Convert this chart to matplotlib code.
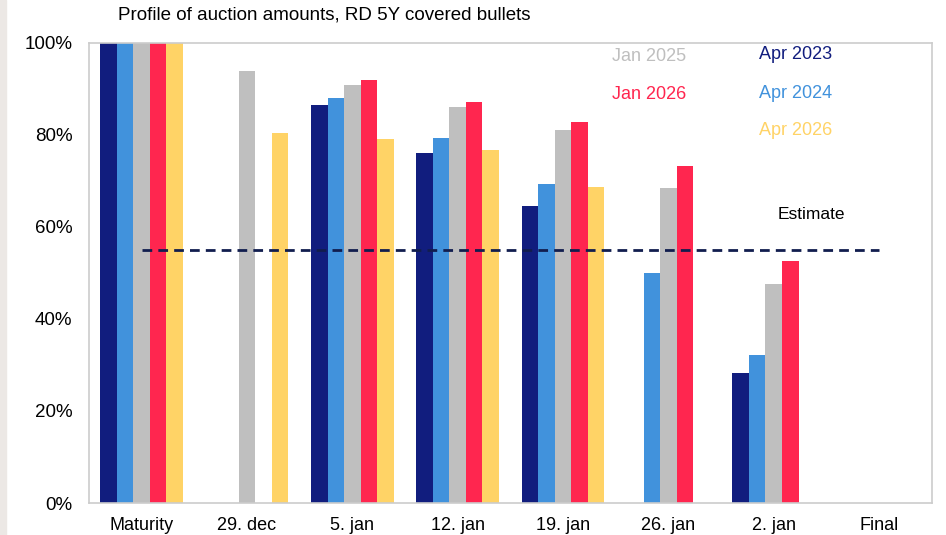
import numpy as np
import matplotlib.pyplot as plt

plt.rcParams['font.family'] = ['Liberation Sans', 'DejaVu Sans']

# Data
categories = ['Maturity', '29. dec', '5. jan', '12. jan', '19. jan', '26. jan', '2. jan', 'Final']
series_names = ['Apr 2023', 'Apr 2024', 'Jan 2025', 'Jan 2026', 'Apr 2026']
apr_2023 = [100, np.nan, 86.5, 76.1, 64.6, np.nan, 28.3, np.nan]
apr_2024 = [100, np.nan, 88.0, 79.3, 69.3, 50.0, 32.2, np.nan]
jan_2025 = [100, 93.9, 90.9, 86.1, 81.1, 68.5, 47.6, np.nan]
jan_2026 = [100, np.nan, 92.0, 87.2, 82.8, 73.3, 52.6, np.nan]
apr_2026 = [100, 80.4, 79.1, 76.7, 68.7, np.nan, np.nan, np.nan]
estimate = 55

colors = ['#111d7e', '#4192dc', '#bfbfbf', '#ff264f', '#ffd366']
all_series = [apr_2023, apr_2024, jan_2025, jan_2026, apr_2026]

fig = plt.figure(figsize=(9.46, 5.35), dpi=100)
ax = fig.add_axes([0.094, 0.0598, 0.891, 0.86])

x = np.arange(len(categories))
w = 0.157
for k, (vals, col) in enumerate(zip(all_series, colors)):
    ax.bar(x + (k - 2) * w, vals, width=w, color=col)

# estimate line
ax.plot([x[0], x[-1]], [estimate, estimate], color='#111d4e', linestyle='--',
        linewidth=2, dashes=(3.5, 2.2))
ax.text(6.04, 62.8, 'Estimate', fontsize=12.5, color='black', ha='left', va='center')

ax.set_xlim(-0.5, 7.5)
ax.set_ylim(0, 100)
ax.set_xticks(x)
ax.set_xticklabels(categories, fontsize=13)
ax.set_yticks(np.arange(0, 101, 20))
ax.set_yticklabels([f'{v}%' for v in range(0, 101, 20)], fontsize=13.5)
ax.tick_params(axis='x', length=0, pad=10)
ax.tick_params(axis='y', length=0, pad=12)
for s in ax.spines.values():
    s.set_color('#cccccc')
    s.set_linewidth(1.2)

# legend labels as coloured text
leg_pos = {'Jan 2025': (4.46, 97.0), 'Jan 2026': (4.46, 88.7),
           'Apr 2023': (5.86, 97.4), 'Apr 2024': (5.86, 89.1), 'Apr 2026': (5.86, 80.9)}
for name, col in zip(series_names, colors):
    px, py = leg_pos[name]
    ax.text(px, py, name, color=col, fontsize=13, ha='left', va='center')

fig.text(0.125, 0.972, 'Profile of auction amounts, RD 5Y covered bullets',
         fontsize=13.5, ha='left', va='center')

# light strip on left edge
fig.patches.append(plt.Rectangle((0, 0), 0.006, 1, transform=fig.transFigure,
                                 color='#ece8e5', zorder=-1))

fig.savefig('out.png', dpi=100)
